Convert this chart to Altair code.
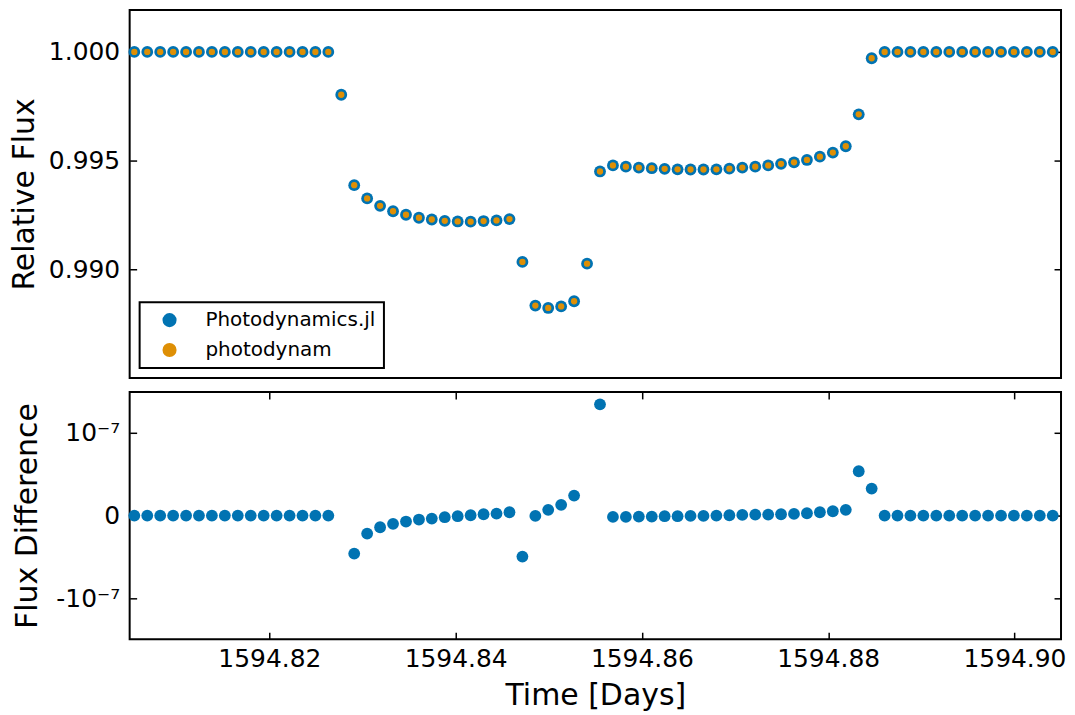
import altair as alt
import pandas as pd

# ---------------- data ----------------
time_days = [
    1594.80550, 1594.80689, 1594.80828, 1594.80967, 1594.81106, 1594.81244,
    1594.81383, 1594.81522, 1594.81661, 1594.81800, 1594.81939, 1594.82078,
    1594.82217, 1594.82356, 1594.82494, 1594.82633, 1594.82772, 1594.82911,
    1594.83050, 1594.83189, 1594.83328, 1594.83467, 1594.83606, 1594.83744,
    1594.83883, 1594.84022, 1594.84161, 1594.84300, 1594.84439, 1594.84578,
    1594.84717, 1594.84856, 1594.84994, 1594.85133, 1594.85272, 1594.85411,
    1594.85550, 1594.85689, 1594.85828, 1594.85967, 1594.86106, 1594.86244,
    1594.86383, 1594.86522, 1594.86661, 1594.86800, 1594.86939, 1594.87078,
    1594.87217, 1594.87356, 1594.87494, 1594.87633, 1594.87772, 1594.87911,
    1594.88050, 1594.88189, 1594.88328, 1594.88467, 1594.88606, 1594.88744,
    1594.88883, 1594.89022, 1594.89161, 1594.89300, 1594.89439, 1594.89578,
    1594.89717, 1594.89856, 1594.89994, 1594.90133, 1594.90272, 1594.90411,
]

flux_julia = [
    1.0, 1.0, 1.0, 1.0, 1.0, 1.0, 1.0, 1.0, 1.0, 1.0, 1.0, 1.0, 1.0, 1.0, 1.0, 1.0,
    0.99803, 0.99387, 0.99326, 0.99292, 0.99267, 0.99251, 0.99237, 0.99229,
    0.99223, 0.99220, 0.99219, 0.99222, 0.99225, 0.99231, 0.99034, 0.98833,
    0.98822, 0.98829, 0.98853, 0.99026, 0.99450, 0.99478, 0.99472, 0.99468,
    0.99465, 0.99462, 0.99460, 0.99459, 0.99459, 0.99460, 0.99463, 0.99468,
    0.99472, 0.99478, 0.99485, 0.99492, 0.99503, 0.99518, 0.99537, 0.99566,
    0.99713, 0.99971,
    1.0, 1.0, 1.0, 1.0, 1.0, 1.0, 1.0, 1.0, 1.0, 1.0, 1.0, 1.0, 1.0, 1.0,
]

# photodynam agrees with Photodynamics.jl to ~1e-7, indistinguishable at this scale
flux_photodynam = list(flux_julia)

flux_diff = [
    0.0, 0.0, 0.0, 0.0, 0.0, 0.0, 0.0, 0.0, 0.0, 0.0, 0.0, 0.0, 0.0, 0.0, 0.0, 0.0,
    None, -4.58e-8, -2.17e-8, -1.41e-8, -1.0e-8, -7.2e-9, -4.8e-9, -3.6e-9,
    -2.0e-9, -8e-10, 4e-10, 1.6e-9, 2.4e-9, 4.0e-9, -4.94e-8, -4e-10,
    6.9e-9, 1.29e-8, 2.41e-8, None, 2.19e-7, -1.6e-9, -1.6e-9, -1.2e-9,
    -1.2e-9, -8e-10, -8e-10, -4e-10, -4e-10, 0.0, 4e-10, 8e-10,
    1.2e-9, 1.2e-9, 1.6e-9, 2.0e-9, 2.8e-9, 4.0e-9, 5.2e-9, 6.9e-9,
    5.34e-8, 3.25e-8,
    0.0, 0.0, 0.0, 0.0, 0.0, 0.0, 0.0, 0.0, 0.0, 0.0, 0.0, 0.0, 0.0, 0.0,
]

series_names = ["Photodynamics.jl", "photodynam"]
series_colors = ["#0173B2", "#DE8F05"]

x_ticks = [1594.82, 1594.84, 1594.86, 1594.88, 1594.90]
flux_ticks = [0.990, 0.995, 1.000]
diff_ticks = [-1, 0, 1]          # symlog coordinates of -1e-7, 0, 1e-7
linthresh = 1e-7

# ---------------- tables ----------------
n = len(time_days)
top_df = pd.DataFrame({
    "time": time_days + time_days,
    "flux": flux_julia + flux_photodynam,
    "series": [series_names[0]] * n + [series_names[1]] * n,
})
bot_df = pd.DataFrame({"time": time_days, "diff": flux_diff}).dropna()

# ---------------- styling ----------------
FONT = "DejaVu Sans"
W = 934
H_TOP = 369
H_BOT = 248
TICK = 7
BIG = 140
SMALL = 40

xscale = alt.Scale(domain=[1594.805, 1594.905], nice=False, zero=False)
yscale_top = alt.Scale(domain=[0.985, 1.00193], nice=False, zero=False)
yscale_bot = alt.Scale(domain=[-1.49, 1.49], nice=False, zero=False)

def tick_axis(orient, values):
    return alt.Axis(orient=orient, values=values, labels=False, domain=False,
                    ticks=True, tickSize=TICK, offset=-TICK, tickColor="black",
                    tickWidth=1.5, title=None, grid=False,
                    minExtent=0, maxExtent=0)

# ---------------- top panel ----------------
top_base = alt.Chart(top_df)

color_enc = alt.Color(
    "series:N",
    scale=alt.Scale(domain=series_names, range=series_colors),
    legend=alt.Legend(
        title=None, orient="bottom-left", offset=10,
        fillColor="white",
        padding=8, symbolType="circle", symbolSize=200, symbolOffset=12,
        symbolStrokeWidth=0, symbolOpacity=1, labelOffset=26,
        labelFont=FONT, labelFontSize=20, labelColor="black", rowPadding=10,
        labelLimit=400, cornerRadius=0,
    ),
)

top_julia = top_base.transform_filter(
    alt.datum.series == series_names[0]
).mark_circle(size=BIG, opacity=1).encode(
    x=alt.X("time:Q", scale=xscale, axis=None),
    y=alt.Y("flux:Q", scale=yscale_top,
            axis=alt.Axis(orient="left", values=flux_ticks, format=".3f",
                          ticks=False, domain=False, labelPadding=10,
                          title="Relative Flux", titlePadding=9, grid=False)),
    color=color_enc,
)

top_pd = top_base.transform_filter(
    alt.datum.series == series_names[1]
).mark_circle(size=SMALL, opacity=1).encode(
    x=alt.X("time:Q", scale=xscale, axis=None),
    y=alt.Y("flux:Q", scale=yscale_top, axis=tick_axis("left", flux_ticks)),
    color=color_enc,
)

top_right = top_base.mark_circle(opacity=0).encode(
    x=alt.X("time:Q", scale=xscale, axis=None),
    y=alt.Y("flux:Q", scale=yscale_top, axis=tick_axis("right", flux_ticks)),
)

top = alt.layer(top_julia, top_pd, top_right).resolve_axis(
    y="independent"
).properties(width=W, height=H_TOP)

# ---------------- bottom panel ----------------
bot_base = alt.Chart(bot_df).transform_calculate(
    sy=f"abs(datum.diff) <= {linthresh} ? datum.diff / {linthresh} : "
       f"(datum.diff > 0 ? 1 : -1) * (1 + log(abs(datum.diff) / {linthresh}) / LN10)"
)

label_expr = ("datum.value == 0 ? '0' : (datum.value > 0 ? '10\u207b\u2077' : '-10\u207b\u2077')")

bot_main = bot_base.mark_circle(size=BIG, opacity=1, color=series_colors[0]).encode(
    x=alt.X("time:Q", scale=xscale,
            axis=alt.Axis(orient="bottom", values=x_ticks, format=".2f",
                          ticks=False, domain=False, labelPadding=7,
                          title="Time [Days]", titlePadding=9, grid=False)),
    y=alt.Y("sy:Q", scale=yscale_bot,
            axis=alt.Axis(orient="left", values=diff_ticks, labelExpr=label_expr,
                          ticks=False, domain=False, labelPadding=10,
                          title="Flux Difference", titlePadding=13, grid=False)),
)

bot_ticks1 = bot_base.mark_circle(opacity=0).encode(
    x=alt.X("time:Q", scale=xscale, axis=tick_axis("bottom", x_ticks)),
    y=alt.Y("sy:Q", scale=yscale_bot, axis=tick_axis("left", diff_ticks)),
)

bot_ticks2 = bot_base.mark_circle(opacity=0).encode(
    x=alt.X("time:Q", scale=xscale, axis=tick_axis("top", x_ticks)),
    y=alt.Y("sy:Q", scale=yscale_bot, axis=tick_axis("right", diff_ticks)),
)

bottom = alt.layer(bot_main, bot_ticks1, bot_ticks2).resolve_axis(
    x="independent", y="independent"
).properties(width=W, height=H_BOT)

chart = alt.vconcat(top, bottom, spacing=11).resolve_scale(
    color="independent"
).resolve_legend(
    color="independent"
).properties(
    padding={"left": 0, "top": 0, "right": 0, "bottom": 0}
).configure_view(
    stroke="black", strokeWidth=2
).configure_axis(
    labelFont=FONT, titleFont=FONT, labelFontSize=25, titleFontSize=30,
    labelColor="black", titleColor="black", titleFontWeight="normal",
    grid=False,
).configure_legend(
    labelFont=FONT, strokeColor="black", strokeWidth=2,
)

chart.save("out.html", embed_options={"renderer": "svg", "actions": False})
